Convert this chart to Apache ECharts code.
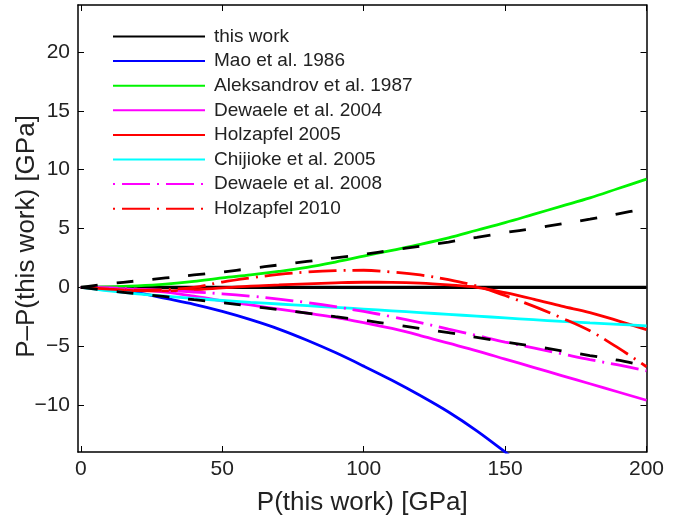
<!DOCTYPE html>
<html>
<head>
<meta charset="utf-8">
<script src="https://cdn.jsdelivr.net/npm/echarts@6/dist/echarts.min.js"></script>
<style>
  html, body { margin: 0; padding: 0; background: #fff; }
  #chart { width: 679px; height: 517px; }
</style>
</head>
<body>
<div id="chart"></div>
<script>
// Pressure grid (GPa) shared by every curve
const pressure = [0, 10, 20, 30, 40, 50, 60, 70, 80, 90, 100, 110, 120, 130, 140, 150, 160, 170, 180, 190, 200];
const maoPressure = [0, 10, 20, 30, 40, 50, 60, 70, 80, 90, 100, 110, 120, 130, 140, 150, 160];

// P - P(this work) for each pressure scale, in GPa
const thisWork      = [0, 0, 0, 0, 0, 0, 0, 0, 0, 0, 0, 0, 0, 0, 0, 0, 0, 0, 0, 0, 0];
const mao1986       = [0, -0.12, -0.45, -0.95, -1.45, -2.05, -2.75, -3.55, -4.5, -5.55, -6.7, -7.9, -9.2, -10.6, -12.2, -14.0, -15.9];
const aleksandrov1987 = [0, 0.03, 0.12, 0.27, 0.5, 0.8, 1.05, 1.35, 1.7, 2.15, 2.65, 3.15, 3.65, 4.2, 4.85, 5.5, 6.2, 6.9, 7.6, 8.4, 9.2];
const dewaele2004   = [0, -0.07, -0.2, -0.4, -0.75, -1.15, -1.5, -1.85, -2.2, -2.55, -3.0, -3.5, -4.1, -4.75, -5.4, -6.1, -6.8, -7.5, -8.2, -8.9, -9.6];
const holzapfel2005 = [0, -0.15, -0.28, -0.3, -0.2, -0.05, 0.1, 0.2, 0.3, 0.38, 0.43, 0.42, 0.35, 0.2, 0.0, -0.45, -1.0, -1.6, -2.15, -2.85, -3.6];
const chijioke2005  = [0, -0.3, -0.55, -0.75, -0.95, -1.12, -1.28, -1.42, -1.56, -1.7, -1.85, -2.0, -2.15, -2.3, -2.45, -2.6, -2.75, -2.9, -3.03, -3.15, -3.27];
const dewaele2008   = [0, -0.05, -0.15, -0.25, -0.4, -0.55, -0.75, -1.0, -1.3, -1.65, -2.05, -2.5, -3.0, -3.55, -4.1, -4.65, -5.15, -5.65, -6.15, -6.6, -7.1];
const holzapfel2010 = [0, -0.15, -0.25, -0.2, 0.0, 0.45, 0.8, 1.1, 1.3, 1.42, 1.45, 1.3, 1.05, 0.65, 0.1, -0.7, -1.6, -2.6, -3.7, -5.15, -6.75];
// Uncertainty envelope of this work
const upperBound    = [0, 0.3, 0.55, 0.8, 1.05, 1.3, 1.6, 1.9, 2.2, 2.5, 2.8, 3.15, 3.5, 3.85, 4.25, 4.65, 5.0, 5.4, 5.8, 6.25, 6.7];
const lowerBound    = [0, -0.3, -0.55, -0.8, -1.05, -1.3, -1.6, -1.9, -2.2, -2.5, -2.8, -3.15, -3.5, -3.85, -4.25, -4.65, -5.0, -5.4, -5.8, -6.2, -6.7];

const xTicks = [0, 50, 100, 150, 200];
const yTicks = [-10, -5, 0, 5, 10, 15, 20];

const pairs = (xs, ys) => ys.map((y, i) => [xs[i], y]);

const FONT = '"Liberation Sans", Arial, Helvetica, sans-serif';
const TEXT = '#222';
const dashDot = [28, 7, 2, 7];

function curve(name, xs, ys, color, type, width, z) {
  return {
    name: name,
    type: 'line',
    data: pairs(xs, ys),
    smooth: 0.35,
    symbol: 'none',
    showSymbol: false,
    clip: true,
    z: z,
    lineStyle: { color: color, width: width, type: type, dashOffset: type === dashDot ? 35 : 0 },
    itemStyle: { color: color },
    emphasis: { disabled: true }
  };
}

const series = [
  curve('this work', pressure, thisWork, '#000000', 'solid', 3.2, 2),
  curve('Mao et al. 1986', maoPressure, mao1986, '#0000ff', 'solid', 2.8, 3),
  curve('Aleksandrov et al. 1987', pressure, aleksandrov1987, '#00f400', 'solid', 2.8, 4),
  curve('Dewaele et al. 2004', pressure, dewaele2004, '#ff00ff', 'solid', 2.8, 5),
  curve('Holzapfel 2005', pressure, holzapfel2005, '#ff0000', 'solid', 2.8, 6),
  curve('Chijioke et al. 2005', pressure, chijioke2005, '#00ffff', 'solid', 2.8, 7),
  curve('Dewaele et al. 2008', pressure, dewaele2008, '#ff00ff', dashDot, 2.8, 8),
  curve('Holzapfel 2010', pressure, holzapfel2010, '#ff0000', dashDot, 2.8, 9),
  curve('upper', pressure, upperBound, '#000000', [17, 19], 2.8, 10),
  curve('lower', pressure, lowerBound, '#000000', [17, 19], 2.8, 10)
];

const legendNames = ['this work', 'Mao et al. 1986', 'Aleksandrov et al. 1987', 'Dewaele et al. 2004',
  'Holzapfel 2005', 'Chijioke et al. 2005', 'Dewaele et al. 2008', 'Holzapfel 2010'];

const axisLine = { show: true, onZero: false, lineStyle: { color: '#000', width: 1.5 } };
const ticks = (vals) => ({ show: true, inside: true, length: 6, customValues: vals, lineStyle: { color: '#000', width: 1 } });

const chart = echarts.init(document.getElementById('chart'), null, { renderer: 'canvas' });
chart.setOption({
  animation: false,
  backgroundColor: '#fff',
  grid: { left: 78, right: 32.5, top: 5, bottom: 65, containLabel: false, outerBoundsMode: 'none' },
  legend: {
    data: legendNames,
    orient: 'vertical',
    left: 112,
    top: 27,
    padding: 0,
    itemWidth: 92,
    itemHeight: 18,
    itemGap: 5.6,
    selectedMode: false,
    itemStyle: { opacity: 0 },
    textStyle: { fontFamily: FONT, fontSize: 19, color: TEXT, lineHeight: 18, padding: [0, 0, 0, 4] }
  },
  xAxis: [
    {
      type: 'value', min: -1, max: 200, position: 'bottom',
      name: 'P(this work) [GPa]', nameLocation: 'middle', nameGap: 38, nameMoveOverlap: false,
      nameTextStyle: { fontFamily: FONT, fontSize: 26, color: TEXT },
      axisLine: axisLine, axisTick: ticks(xTicks), splitLine: { show: false },
      axisLabel: { customValues: xTicks, margin: 7, fontFamily: FONT, fontSize: 21, color: TEXT }
    },
    {
      type: 'value', min: -1, max: 200, position: 'top',
      axisLine: axisLine, axisTick: ticks(xTicks), splitLine: { show: false },
      axisLabel: { show: false }
    }
  ],
  yAxis: [
    {
      type: 'value', min: -14, max: 24, position: 'left',
      name: 'P\u2013P(this work) [GPa]', nameLocation: 'middle', nameGap: 38, nameRotate: 90, nameMoveOverlap: false,
      nameTextStyle: { fontFamily: FONT, fontSize: 26, color: TEXT, padding: [0, 16, 0, 0] },
      axisLine: axisLine, axisTick: ticks(yTicks), splitLine: { show: false },
      axisLabel: {
        customValues: yTicks, margin: 8, fontFamily: FONT, fontSize: 21, color: TEXT,
        formatter: (v) => (v < 0 ? '\u2212' + Math.abs(v) : String(v))
      }
    },
    {
      type: 'value', min: -14, max: 24, position: 'right',
      axisLine: axisLine, axisTick: ticks(yTicks), splitLine: { show: false },
      axisLabel: { show: false }
    }
  ],
  series: series
});
</script>
</body>
</html>
